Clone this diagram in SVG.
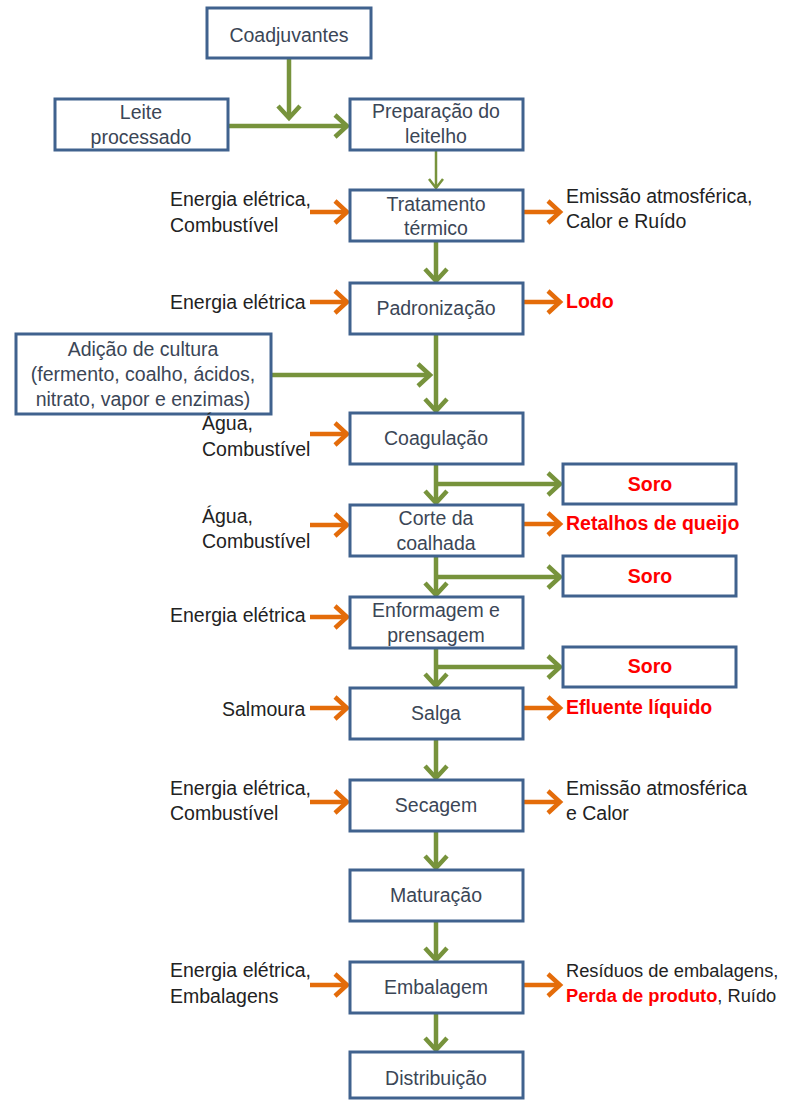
<svg xmlns="http://www.w3.org/2000/svg" width="789" height="1100" viewBox="0 0 789 1100">
<style>
.box{fill:#fff;stroke:#40628e;stroke-width:3}
.bt{font-family:"Liberation Sans",Arial,sans-serif;font-size:19.5px;fill:#3b4656;text-anchor:middle}
.lt{font-family:"Liberation Sans",Arial,sans-serif;font-size:19.5px;fill:#222}
.sm{font-size:18.3px}
.red{fill:#ff0000;font-weight:bold}
.g{stroke:#77933c;stroke-width:4.5;fill:none}
.gt{stroke:#77933c;stroke-width:2.5;fill:none}
.o{stroke:#e46c0a;stroke-width:4.5;fill:none}
</style>
<defs>
<marker id="ga" markerUnits="userSpaceOnUse" markerWidth="18" markerHeight="26" refX="14" refY="13" orient="auto"><path d="M2,2 L14,13 L2,24" fill="none" stroke="#77933c" stroke-width="4.5"/></marker>
<marker id="gs" markerUnits="userSpaceOnUse" markerWidth="12" markerHeight="18" refX="10" refY="9" orient="auto"><path d="M1,2 L10,9 L1,16" fill="none" stroke="#77933c" stroke-width="2.5"/></marker>
<marker id="oa" markerUnits="userSpaceOnUse" markerWidth="18" markerHeight="26" refX="14" refY="13" orient="auto"><path d="M2,2 L14,13 L2,24" fill="none" stroke="#e46c0a" stroke-width="4.5"/></marker>
</defs>
<g id="connectors">
<path class="g" d="M289,58 V118" marker-end="url(#ga)"/>
<path class="g" d="M228,126 H347" marker-end="url(#ga)"/>
<path class="gt" d="M436,150 V188" marker-end="url(#gs)"/>
<path class="o" d="M310,212 H347" marker-end="url(#oa)"/>
<path class="o" d="M523,212 H560" marker-end="url(#oa)"/>
<path class="g" d="M436,241 V281" marker-end="url(#ga)"/>
<path class="o" d="M310,302 H347" marker-end="url(#oa)"/>
<path class="o" d="M523,302 H560" marker-end="url(#oa)"/>
<path class="g" d="M436,334 V411" marker-end="url(#ga)"/>
<path class="g" d="M271,375 H430" marker-end="url(#ga)"/>
<path class="o" d="M310,434 H347" marker-end="url(#oa)"/>
<path class="g" d="M436,464 V503" marker-end="url(#ga)"/>
<path class="g" d="M436,484 H560" marker-end="url(#ga)"/>
<path class="o" d="M310,525 H347" marker-end="url(#oa)"/>
<path class="o" d="M523,524 H560" marker-end="url(#oa)"/>
<path class="g" d="M436,556 V595" marker-end="url(#ga)"/>
<path class="g" d="M436,577 H560" marker-end="url(#ga)"/>
<path class="o" d="M310,617 H347" marker-end="url(#oa)"/>
<path class="g" d="M436,648 V686" marker-end="url(#ga)"/>
<path class="g" d="M436,667 H560" marker-end="url(#ga)"/>
<path class="o" d="M310,708 H347" marker-end="url(#oa)"/>
<path class="o" d="M523,708 H560" marker-end="url(#oa)"/>
<path class="g" d="M436,739 V778" marker-end="url(#ga)"/>
<path class="o" d="M310,802 H347" marker-end="url(#oa)"/>
<path class="o" d="M523,802 H560" marker-end="url(#oa)"/>
<path class="g" d="M436,831 V868" marker-end="url(#ga)"/>
<path class="g" d="M436,921 V960" marker-end="url(#ga)"/>
<path class="o" d="M310,985 H347" marker-end="url(#oa)"/>
<path class="o" d="M523,985 H560" marker-end="url(#oa)"/>
<path class="g" d="M436,1013 V1050" marker-end="url(#ga)"/>
</g>
<g id="coadjuvantes"><rect class="box" x="207" y="8" width="164" height="50"/><text class="bt" x="289" y="42">Coadjuvantes</text></g>
<g id="leite"><rect class="box" x="55" y="99" width="173" height="51"/><text class="bt" x="141" y="119">Leite</text><text class="bt" x="141" y="144">processado</text></g>
<g id="preparacao"><rect class="box" x="350" y="99" width="173" height="51"/><text class="bt" x="436" y="118">Preparação do</text><text class="bt" x="436" y="143">leitelho</text></g>
<g id="tratamento"><rect class="box" x="350" y="190" width="173" height="51"/><text class="bt" x="436" y="211">Tratamento</text><text class="bt" x="436" y="235">térmico</text></g>
<g id="in-tratamento"><text class="lt" x="170" y="206">Energia elétrica,</text><text class="lt" x="170" y="232">Combustível</text></g>
<g id="out-tratamento"><text class="lt" x="566" y="203">Emissão atmosférica,</text><text class="lt" x="566" y="228">Calor e Ruído</text></g>
<g id="padronizacao"><rect class="box" x="350" y="283" width="173" height="51"/><text class="bt" x="436" y="315">Padronização</text></g>
<g id="in-padronizacao"><text class="lt" x="170" y="309">Energia elétrica</text></g>
<g id="out-padronizacao"><text class="lt red" x="566" y="308">Lodo</text></g>
<g id="adicao"><rect class="box" x="16" y="334" width="255" height="80"/><text class="bt" x="143" y="356">Adição de cultura</text><text class="bt" x="143" y="381">(fermento, coalho, ácidos,</text><text class="bt" x="143" y="406">nitrato, vapor e enzimas)</text></g>
<g id="coagulacao"><rect class="box" x="350" y="413" width="173" height="51"/><text class="bt" x="436" y="445">Coagulação</text></g>
<g id="in-coagulacao"><text class="lt" x="202" y="430">Água,</text><text class="lt" x="202" y="456">Combustível</text></g>
<g id="soro1"><rect class="box" x="563" y="464" width="173" height="40"/><text class="bt red" x="650" y="491">Soro</text></g>
<g id="corte"><rect class="box" x="350" y="505" width="173" height="51"/><text class="bt" x="436" y="525">Corte da</text><text class="bt" x="436" y="550">coalhada</text></g>
<g id="in-corte"><text class="lt" x="202" y="523">Água,</text><text class="lt" x="202" y="548">Combustível</text></g>
<g id="out-corte"><text class="lt red" x="566" y="530">Retalhos de queijo</text></g>
<g id="soro2"><rect class="box" x="563" y="556" width="173" height="40"/><text class="bt red" x="650" y="583">Soro</text></g>
<g id="enformagem"><rect class="box" x="350" y="597" width="173" height="51"/><text class="bt" x="436" y="617">Enformagem e</text><text class="bt" x="436" y="642">prensagem</text></g>
<g id="in-enformagem"><text class="lt" x="170" y="622">Energia elétrica</text></g>
<g id="soro3"><rect class="box" x="563" y="647" width="173" height="40"/><text class="bt red" x="650" y="673">Soro</text></g>
<g id="salga"><rect class="box" x="350" y="688" width="173" height="51"/><text class="bt" x="436" y="720">Salga</text></g>
<g id="in-salga"><text class="lt" x="222" y="716">Salmoura</text></g>
<g id="out-salga"><text class="lt red" x="566" y="714">Efluente líquido</text></g>
<g id="secagem"><rect class="box" x="350" y="780" width="173" height="51"/><text class="bt" x="436" y="812">Secagem</text></g>
<g id="in-secagem"><text class="lt" x="170" y="795">Energia elétrica,</text><text class="lt" x="170" y="820">Combustível</text></g>
<g id="out-secagem"><text class="lt" x="566" y="795">Emissão atmosférica</text><text class="lt" x="566" y="820">e Calor</text></g>
<g id="maturacao"><rect class="box" x="350" y="870" width="173" height="51"/><text class="bt" x="436" y="902">Maturação</text></g>
<g id="embalagem"><rect class="box" x="350" y="962" width="173" height="51"/><text class="bt" x="436" y="994">Embalagem</text></g>
<g id="in-embalagem"><text class="lt" x="170" y="977">Energia elétrica,</text><text class="lt" x="170" y="1003">Embalagens</text></g>
<g id="out-embalagem"><text class="lt sm" x="566" y="977">Resíduos de embalagens,</text><text class="lt sm" x="566" y="1002"><tspan class="red">Perda de produto</tspan>, Ruído</text></g>
<g id="distribuicao"><rect class="box" x="350" y="1052" width="173" height="46"/><text class="bt" x="436" y="1085">Distribuição</text></g>
</svg>
